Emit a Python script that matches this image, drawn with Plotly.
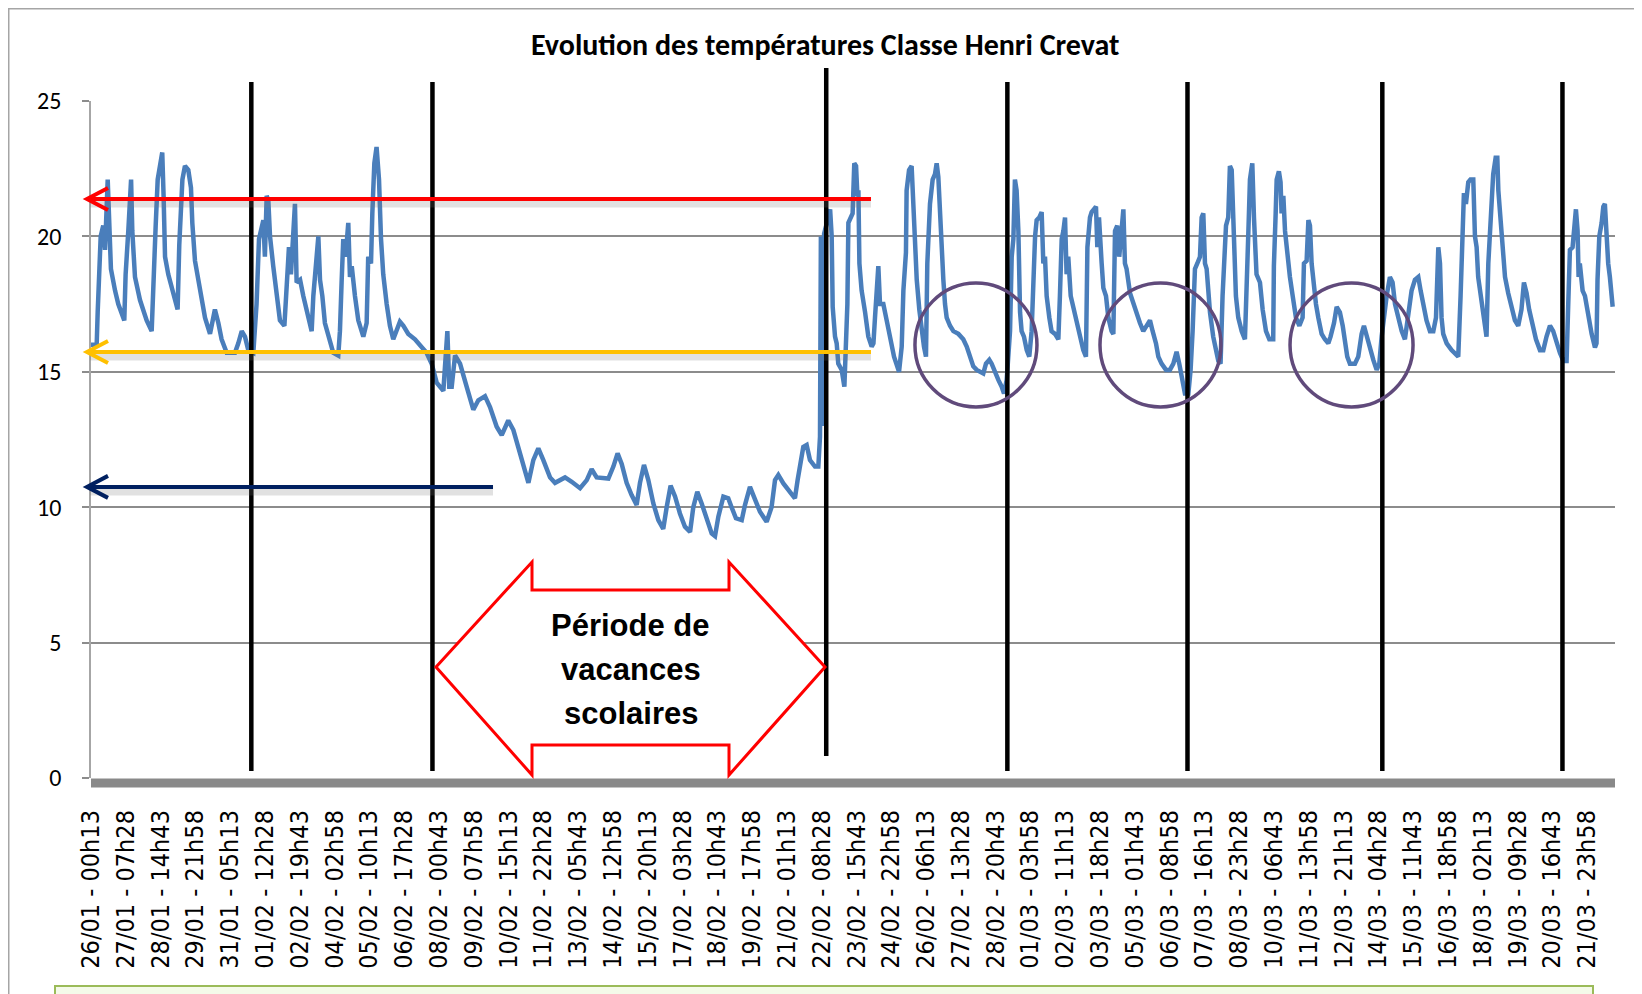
import plotly.graph_objects as go

# ---------------- data ----------------
# elapsed hours since 26/01 00h13 and temperature in °C
hours = [
    0, 5.1, 6.0, 7.2, 8.7, 11.0, 12.6, 15.0, 16.2, 17.9,
    21.6, 24.5, 29.9, 31.1, 33.5, 36.0, 37.1, 39.5, 44.0, 50.0,
    54.5, 56.0, 58.1, 59.9, 62.0, 64.0, 65.2, 66.5, 69.4, 74.0,
    77.8, 79.3, 82.1, 84.4, 87.4, 89.8, 91.0, 93.4, 97.9, 102.4,
    106.9, 111.3, 114.4, 117.3, 121.9, 129.3, 132.3, 135.4, 138.3, 141.3,
    145.8, 148.7, 150.9, 153.3, 154.8, 156.2, 157.8, 159.3, 160.8, 163.7,
    166.8, 169.7, 173.7, 175.7, 177.8, 179.6, 181.7, 183.2, 184.7, 187.8,
    190.7, 193.7, 198.2, 199.7, 201.7, 204.2, 205.7, 207.8, 210.1, 214.7,
    217.6, 222.1, 223.6, 225.1, 226.6, 228.7, 231.1, 232.6, 234.2, 237.1,
    240.1, 244.6, 247.6, 249.0, 251.5, 252.7, 254.5, 256.5, 258.7, 260.5,
    262.5, 265.6, 268.5, 271.5, 274.5, 277.5, 280.6, 285.0, 291.0, 297.0,
    301.4, 306.0, 310.5, 316.5, 318.0, 320.1, 321.8, 324.0, 327.0, 331.5,
    337.4, 343.4, 347.9, 353.9, 358.4, 364.4, 368.9, 374.8, 379.4, 385.4,
    389.8, 392.9, 397.3, 401.8, 406.3, 412.3, 416.8, 425.8, 431.8, 439.3,
    445.3, 449.7, 454.2, 464.7, 469.2, 473.0, 476.7, 481.1, 485.6, 490.1,
    493.1, 496.7, 500.6, 505.1, 509.6, 514.0, 517.1, 520.6, 524.6, 529.0,
    533.5, 538.1, 541.0, 544.6, 548.5, 553.0, 557.5, 560.5, 563.5, 568.0,
    572.4, 575.4, 579.3, 584.5, 587.4, 591.9, 596.4, 600.9, 606.9, 611.3,
    614.4, 617.4, 621.9, 626.3, 632.3, 634.7, 636.8, 639.8, 642.8, 645.8,
    650.3, 653.3, 654.8, 655.6, 656.6, 657.6, 658.5, 661.0, 663.9, 665.3,
    666.2, 668.3, 669.8, 671.2, 674.3, 676.7, 678.1, 679.4, 680.3, 682.4,
    684.1, 685.6, 687.2, 688.4, 689.3, 690.2, 692.2, 695.3, 698.2, 701.2,
    702.8, 704.2, 705.7, 707.2, 708.7, 711.7, 714.7, 717.7, 721.3, 725.8,
    728.2, 729.7, 732.0, 732.6, 734.8, 737.1, 738.6, 740.1, 741.7, 744.0,
    746.1, 748.2, 750.0, 751.2, 753.6, 756.0, 758.1, 759.6, 761.1, 763.3,
    765.6, 767.1, 768.6, 771.6, 774.6, 779.1, 783.5, 786.6, 789.5, 792.5,
    795.6, 798.5, 801.5, 803.9, 806.9, 809.0, 812.0, 815.0, 818.0, 820.1,
    822.5, 825.5, 827.0, 828.5, 829.9, 831.4, 833.0, 834.5, 835.9, 838.0,
    840.5, 842.8, 844.9, 846.4, 848.0, 849.4, 851.8, 853.9, 855.4, 856.9,
    858.4, 860.8, 862.8, 865.9, 868.9, 870.3, 871.9, 873.4, 874.9, 876.3,
    877.8, 880.0, 882.3, 885.3, 888.4, 891.3, 893.7, 895.0, 897.3, 898.8,
    900.9, 902.7, 903.9, 905.4, 907.8, 909.3, 911.7, 913.8, 916.7, 918.3,
    919.8, 921.8, 923.6, 925.8, 927.3, 928.7, 930.2, 933.3, 936.2, 939.2,
    942.2, 945.2, 948.3, 951.2, 953.6, 956.6, 958.7, 961.6, 965.6, 969.1,
    972.2, 975.1, 977.5, 979.7, 982.6, 985.7, 987.7, 989.5, 991.6, 993.7,
    996.1, 997.6, 999.1, 1000.6, 1002.1, 1005.1, 1008.0, 1012.6, 1014.6, 1016.4,
    1017.7, 1019.5, 1021.5, 1023.0, 1024.6, 1026.1, 1026.7, 1028.4, 1030.5, 1033.6,
    1036.5, 1038.0, 1039.6, 1041.0, 1043.1, 1044.6, 1045.8, 1046.9, 1050.0, 1052.4,
    1055.4, 1058.4, 1061.9, 1062.5, 1064.1, 1065.0, 1067.0, 1068.5, 1069.4, 1071.0,
    1072.5, 1074.8, 1076.9, 1079.4, 1082.3, 1085.4, 1088.3, 1089.5, 1091.9, 1093.5,
    1094.9, 1096.4, 1097.9, 1100.3, 1102.4, 1105.4, 1108.3, 1111.4, 1113.4, 1116.5,
    1118.9, 1121.8, 1124.3, 1126.4, 1128.4, 1130.8, 1135.3, 1138.3, 1141.3, 1143.4,
    1145.8, 1148.8, 1151.8, 1154.8, 1157.2, 1159.3, 1161.3, 1163.8, 1166.7, 1169.1,
    1171.3, 1174.2, 1177.3, 1180.2, 1183.2, 1186.2, 1189.2, 1192.2, 1194.3, 1196.7,
    1199.6, 1202.7, 1205.7, 1208.1, 1209.3, 1210.2, 1211.7, 1213.1, 1214.6, 1217.7,
    1222.1, 1228.1, 1230.2, 1232.1, 1233.2, 1235.0, 1237.1, 1239.1, 1241.6, 1243.1,
    1244.6, 1246.0, 1249.1, 1252.1, 1253.5, 1255.1, 1256.6, 1258.1, 1259.5, 1261.7,
    1263.2, 1264.1, 1265.5, 1267.0, 1268.5, 1270.1, 1273.0, 1276.0, 1279.0, 1282.0,
    1284.9, 1287.1, 1289.5, 1291.8, 1294.9, 1297.9, 1301.5, 1304.5, 1307.4, 1310.5,
    1313.4, 1316.5, 1319.4, 1322.5, 1325.4, 1326.9, 1328.4, 1330.8, 1332.3, 1333.8,
    1335.3, 1336.2, 1337.3, 1339.8, 1341.9, 1344.8, 1347.9, 1350.9, 1352.3, 1353.2,
    1354.8, 1356.9, 1358.4, 1359.8, 1361.3, 1362.8, 1364.3, 1365.8, 1366.8,
]
temps = [
    16.0, 16.0, 17.2, 18.4, 20.0, 20.4, 19.5, 22.1, 20.85, 18.8,
    18.0, 17.5, 16.9, 18.6, 20.2, 22.1, 20.2, 18.5, 17.65, 16.9,
    16.5, 18.6, 20.4, 22.1, 22.7, 23.1, 21.5, 19.25, 18.6, 17.9,
    17.3, 19.7, 22.1, 22.6, 22.45, 21.8, 20.5, 19.1, 18.0, 17.0,
    16.4, 17.3, 16.8, 16.2, 15.7, 15.7, 16.05, 16.5, 16.3, 15.8,
    15.7, 17.5, 19.9, 20.4, 20.6, 19.25, 21.5, 21.3, 20.0, 18.9,
    17.8, 16.9, 16.7, 18.3, 19.6, 18.6, 20.2, 21.2, 18.3, 18.4,
    17.8, 17.3, 16.5, 17.8, 18.8, 20.0, 18.4, 17.8, 16.8, 16.2,
    15.7, 15.6, 16.5, 18.3, 19.9, 19.25, 20.5, 18.5, 18.9, 17.8,
    16.9, 16.3, 16.8, 19.25, 19.0, 20.85, 22.7, 23.3, 22.1, 19.9,
    18.6, 17.5, 16.7, 16.2, 16.5, 16.85, 16.7, 16.4, 16.2, 15.9,
    15.7, 15.3, 14.6, 14.3, 15.4, 16.5, 14.45, 14.45, 15.6, 15.3,
    14.45, 13.6, 13.95, 14.1, 13.7, 12.97, 12.66, 13.2, 12.85, 11.99,
    11.25, 10.9, 11.74, 12.17, 11.74, 11.1, 10.9, 11.1, 10.94, 10.7,
    11.0, 11.4, 11.1, 11.06, 11.5, 11.99, 11.6, 10.9, 10.45, 10.08,
    10.9, 11.56, 11.0, 10.14, 9.52, 9.2, 10.0, 10.8, 10.4, 9.77,
    9.28, 9.09, 10.0, 10.57, 10.14, 9.52, 9.03, 8.93, 9.65, 10.39,
    10.33, 10.0, 9.59, 9.52, 10.08, 10.75, 10.26, 9.83, 9.46, 10.0,
    11.0, 11.19, 10.88, 10.63, 10.33, 11.0, 11.5, 12.23, 12.3, 11.74,
    11.5, 11.5, 12.6, 20.0, 13.0, 16.5, 20.1, 20.5, 21.0, 20.0,
    17.4, 16.3, 16.05, 15.3, 15.07, 14.45, 16.5, 17.5, 20.5, 20.7,
    20.85, 22.7, 22.6, 21.5, 21.7, 19.0, 18.0, 17.2, 16.3, 15.93,
    16.05, 17.0, 18.4, 18.9, 17.5, 17.5, 16.9, 16.3, 15.56, 15.0,
    15.93, 18.0, 19.4, 21.7, 22.45, 22.6, 21.1, 19.25, 18.4, 17.3,
    16.5, 15.93, 15.56, 19.0, 21.2, 22.1, 22.3, 22.7, 22.2, 20.0,
    18.4, 17.5, 17.0, 16.7, 16.5, 16.4, 16.2, 15.93, 15.56, 15.2,
    15.07, 15.0, 14.94, 15.3, 15.44, 15.3, 14.94, 14.7, 14.45, 14.2,
    14.7, 16.5, 19.25, 19.9, 22.1, 21.7, 20.2, 17.2, 16.5, 16.3,
    15.8, 15.56, 16.5, 18.8, 20.0, 20.6, 20.7, 20.9, 19.0, 19.25,
    17.8, 17.0, 16.5, 16.4, 16.2, 17.8, 19.9, 20.2, 20.7, 18.6,
    19.25, 17.8, 17.4, 16.8, 16.3, 15.8, 15.56, 19.6, 20.7, 20.9,
    21.0, 21.1, 19.6, 20.7, 19.0, 18.1, 17.8, 17.0, 16.5, 16.4,
    20.2, 20.4, 19.25, 20.6, 21.0, 19.0, 18.8, 17.9, 17.5, 17.2,
    16.8, 16.5, 16.7, 16.9, 16.5, 16.05, 15.56, 15.3, 15.07, 15.07,
    15.3, 15.74, 15.3, 14.82, 14.2, 14.2, 15.07, 16.5, 18.8, 19.0,
    19.25, 20.7, 20.85, 19.0, 18.8, 17.2, 16.3, 15.4, 15.3, 17.8,
    19.25, 20.4, 20.7, 22.6, 22.45, 20.0, 19.25, 17.8, 17.0, 16.5,
    16.2, 17.8, 20.2, 22.1, 22.7, 20.7, 19.6, 18.6, 18.3, 17.3,
    16.5, 16.2, 16.2, 18.9, 20.85, 22.1, 22.4, 22.0, 20.85, 21.5,
    20.2, 19.25, 18.5, 17.8, 17.0, 16.7, 17.0, 19.0, 19.1, 20.6,
    20.4, 19.0, 18.3, 17.5, 17.0, 16.4, 16.2, 16.05, 16.3, 16.8,
    17.4, 17.2, 16.7, 16.05, 15.56, 15.3, 15.3, 15.56, 16.4, 16.7,
    16.3, 15.8, 15.44, 15.07, 15.3, 16.3, 17.0, 17.8, 18.5, 18.3,
    17.5, 17.0, 16.5, 16.2, 17.0, 18.0, 18.4, 18.5, 18.0, 17.4,
    16.9, 16.5, 16.5, 17.0, 19.0, 19.6, 19.0, 17.0, 16.4, 16.05,
    15.8, 15.56, 17.8, 20.5, 21.6, 21.2, 22.0, 22.1, 22.1, 20.0,
    19.6, 18.5, 17.5, 16.8, 16.3, 19.0, 20.2, 21.5, 22.3, 22.9,
    22.9, 21.7, 20.85, 20.2, 19.0, 18.5, 17.9, 17.4, 16.9, 16.7,
    17.3, 18.3, 17.9, 17.3, 16.8, 16.2, 15.8, 15.8, 16.3, 16.7,
    16.5, 16.05, 15.7, 15.4, 15.4, 17.5, 19.5, 19.6, 20.5, 21.0,
    20.2, 18.5, 19.0, 18.0, 17.8, 17.0, 16.4, 15.9, 16.05, 18.4,
    20.0, 20.5, 21.1, 21.2, 19.7, 19.0, 18.5, 17.5, 17.4,
]
assert len(hours) == len(temps)

tick_labels = [
    "26/01 - 00h13", "27/01 - 07h28", "28/01 - 14h43", "29/01 - 21h58", "31/01 - 05h13",
    "01/02 - 12h28", "02/02 - 19h43", "04/02 - 02h58", "05/02 - 10h13", "06/02 - 17h28",
    "08/02 - 00h43", "09/02 - 07h58", "10/02 - 15h13", "11/02 - 22h28", "13/02 - 05h43",
    "14/02 - 12h58", "15/02 - 20h13", "17/02 - 03h28", "18/02 - 10h43", "19/02 - 17h58",
    "21/02 - 01h13", "22/02 - 08h28", "23/02 - 15h43", "24/02 - 22h58", "26/02 - 06h13",
    "27/02 - 13h28", "28/02 - 20h43", "01/03 - 03h58", "02/03 - 11h13", "03/03 - 18h28",
    "05/03 - 01h43", "06/03 - 08h58", "07/03 - 16h13", "08/03 - 23h28", "10/03 - 06h43",
    "11/03 - 13h58", "12/03 - 21h13", "14/03 - 04h28", "15/03 - 11h43", "16/03 - 18h58",
    "18/03 - 02h13", "19/03 - 09h28", "20/03 - 16h43", "21/03 - 23h58",
]
label_step_h = 31.25  # one category label every 125 readings of 15 min
y_ticks = [0, 5, 10, 15, 20, 25]

# annotation content
week_lines_h = [144.0, 306.7, 660.4, 823.1, 984.9, 1159.9, 1321.7]
circles_h = [(740.1, 849.7), (906.3, 1015.0), (1077.0, 1187.5)]
circle_temp_range = (13.7, 18.28)
ref_arrows = [  # (temperature level, colour, end hour)
    (21.38, "#FF0000", 700.6),
    (15.73, "#FFC000", 700.6),
    (10.75, "#002060", 361.1),
]
title_text = "Evolution des températures Classe Henri Crevat"
vacation_lines = ["Période de", "vacances", "scolaires"]

# ---------------- layout geometry (page pixel coordinates) ----------------
PAGE_W, PAGE_H = 1642, 994
OFF = 8                      # default body margin of the html page
FIG_W, FIG_H = PAGE_W - OFF, PAGE_H - OFF
P_LEFT, P_RIGHT, P_TOP, P_BOTTOM = 91, 1615, 101, 778   # plot area on the page
PW, PH = P_RIGHT - P_LEFT, P_BOTTOM - P_TOP
X_MAX = 1368.9
Y_MAX = 25


def px(x):
    return (x - P_LEFT) / PW


def py(y):
    return (P_BOTTOM - y) / PH


def hx(h):  # hours -> page pixel
    return P_LEFT + h / X_MAX * PW


NARROW = "Liberation Sans Narrow, Arial Narrow, Liberation Sans, Arial, sans-serif"
CALIBRI = "Carlito, Lato, Calibri, sans-serif"

fig = go.Figure()
fig.add_trace(go.Scatter(
    x=hours, y=temps, mode="lines",
    line=dict(color="#4A7EBB", width=4.5),
    hoverinfo="skip", showlegend=False,
))

shapes = []
# chart area border
shapes.append(dict(type="rect", xref="paper", yref="paper",
                   x0=px(8.5), x1=px(1760), y0=py(8.5), y1=py(1150),
                   line=dict(color="#A5A5A5", width=2), fillcolor="rgba(0,0,0,0)", layer="below"))
# green text box at the bottom
shapes.append(dict(type="rect", xref="paper", yref="paper",
                   x0=px(55), x1=px(1593), y0=py(986), y1=py(1150),
                   line=dict(color="#9BBB59", width=2), fillcolor="#F4FAE9", layer="below"))
# thick category axis bar
shapes.append(dict(type="line", xref="paper", yref="paper",
                   x0=0, x1=1, y0=py(783), y1=py(783),
                   line=dict(color="#898989", width=9), layer="above"))

# weekly vertical lines
for i, h in enumerate(week_lines_h):
    top, bot = (68, 756) if i == 2 else (82, 771)
    shapes.append(dict(type="line", xref="x", yref="paper", x0=h, x1=h,
                       y0=py(bot), y1=py(top), line=dict(color="black", width=4.5), layer="above"))

# reference arrows (with light shadow)
dy = 5 / PH * Y_MAX
head_dx, head_dy = 21 / PW, 11 / PH * Y_MAX
for lvl, col, end_h in ref_arrows:
    x_tip = px(87)
    x_end = px(hx(end_h))
    shapes.append(dict(type="line", xref="paper", yref="y", x0=x_tip + 0.002, x1=x_end,
                       y0=lvl - dy, y1=lvl - dy,
                       line=dict(color="rgba(120,120,120,0.22)", width=7), layer="above"))
    shapes.append(dict(type="line", xref="paper", yref="y", x0=x_tip, x1=x_end,
                       y0=lvl, y1=lvl, line=dict(color=col, width=4), layer="above"))
    shapes.append(dict(type="path", xref="paper", yref="y",
                       path=f"M{x_tip + head_dx},{lvl + head_dy} L{x_tip},{lvl} L{x_tip + head_dx},{lvl - head_dy}",
                       line=dict(color=col, width=4), layer="above"))

# purple circles
for h0, h1 in circles_h:
    shapes.append(dict(type="circle", xref="x", yref="y", x0=h0, x1=h1,
                       y0=circle_temp_range[0], y1=circle_temp_range[1],
                       line=dict(color="#604A7B", width=3.5), layer="above"))

# red double arrow (holiday period)
pts = [(436, 667), (532, 562), (532, 590), (729, 590), (729, 562), (825, 667),
       (729, 775), (729, 745), (532, 745), (532, 775)]
path = "M" + " L".join(f"{px(a)},{py(b)}" for a, b in pts) + " Z"
shapes.append(dict(type="path", xref="paper", yref="paper", path=path,
                   fillcolor="white", line=dict(color="#FF0000", width=3), layer="above"))

annotations = [
    dict(text=f"<b>{title_text}</b>", xref="paper", yref="paper", x=px(825), y=py(45),
         showarrow=False, xanchor="center", yanchor="middle",
         font=dict(family=CALIBRI, size=30, color="black")),
]
for k, line_txt in enumerate(vacation_lines):
    annotations.append(dict(text=f"<b>{line_txt}</b>", xref="paper", yref="paper",
                            x=px(630.5), y=py(625 + 44 * k),
                            showarrow=False, xanchor="center", yanchor="middle",
                            font=dict(family=NARROW, size=31, color="black")))

fig.update_layout(
    width=FIG_W, height=FIG_H,
    margin=dict(l=P_LEFT - OFF, r=PAGE_W - P_RIGHT, t=P_TOP - OFF, b=PAGE_H - P_BOTTOM, pad=0),
    paper_bgcolor="white", plot_bgcolor="white",
    shapes=shapes, annotations=annotations,
    xaxis=dict(
        range=[0, X_MAX],
        tickmode="array",
        tickvals=[i * label_step_h for i in range(len(tick_labels))],
        ticktext=tick_labels,
        tickangle=-90,
        tickfont=dict(family="DejaVu Sans Condensed, DejaVu Sans, sans-serif", size=25, color="black"),
        ticks="", showgrid=False, zeroline=False, showline=False,
        ticklabelstandoff=26, automargin=False,
    ),
    yaxis=dict(
        range=[0, Y_MAX],
        tickmode="array", tickvals=y_ticks,
        tickfont=dict(family=CALIBRI, size=24, color="black"),
        showgrid=True, gridcolor="#8C8C8C", gridwidth=1.6,
        zeroline=False,
        showline=True, linecolor="#A6A6A6", linewidth=1.5,
        ticks="outside", ticklen=7, tickcolor="#8C8C8C", tickwidth=1.5,
        ticklabelstandoff=16, automargin=False,
    ),
)

fig.write_html("out.html")
